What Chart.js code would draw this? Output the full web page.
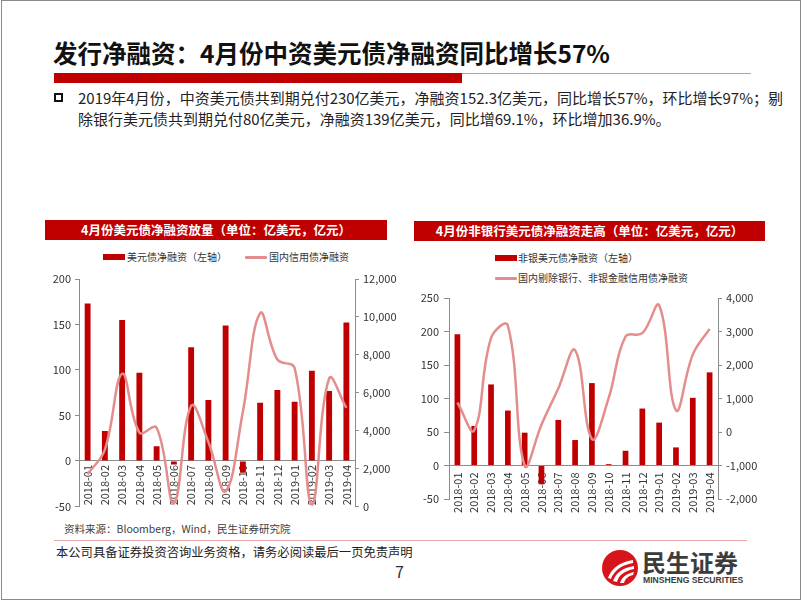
<!DOCTYPE html>
<html>
<head>
<meta charset="utf-8">
<script src="https://cdn.jsdelivr.net/npm/chart.js@4.4.1/dist/chart.umd.min.js"></script>
<style>
  html, body { margin: 0; padding: 0; background: #fff; }
  body { width: 802px; height: 602px; position: relative; overflow: hidden;
         font-family: "Noto Sans CJK SC", "Microsoft YaHei", sans-serif; color: #222; }
  .abs { position: absolute; white-space: nowrap; }
  .frame { left: 1px; top: 0; width: 800px; height: 600px; box-sizing: border-box; border: 1px solid #8a8a8a; }
  .title { left: 53px; top: 38px; font-size: 24.5px; font-weight: 700; line-height: 30px; color: #111; }
  .body { left: 78px; font-size: 15px; line-height: 20px; color: #222; }
  .hdr { height: 20px; background: #C00000; color: #fff; font-weight: 700; font-size: 12.5px;
         line-height: 20px; text-align: center; }
  .leg { font-size: 10px; line-height: 14px; color: #333; }
  .sw-bar { position: absolute; width: 22px; height: 6px; background: #C00000; }
  .sw-line { position: absolute; width: 22px; height: 3px; background: #E38D8D; border-radius: 1px; }
</style>
</head>
<body>
<div class="abs frame"></div>

<div class="abs title">发行净融资：4月份中资美元债净融资同比增长57%</div>
<div class="abs" style="left:54px;top:73px;width:408px;height:10px;background:#C00000"></div>
<div class="abs" style="left:462px;top:73px;width:289px;height:1px;background:#D99090"></div>

<div class="abs" style="left:54px;top:93px;width:5px;height:5px;border:2px solid #111"></div>
<div class="abs body" style="top:88px">2019年4月份，中资美元债共到期兑付230亿美元，净融资152.3亿美元，同比增长57%，环比增长97%；剔</div>
<div class="abs body" style="top:109px">除银行美元债共到期兑付80亿美元，净融资139亿美元，同比增69.1%，环比增加36.9%。</div>

<!-- left chart -->
<div class="abs hdr" style="left:45px;top:220px;width:342px">4月份美元债净融资放量（单位：亿美元，亿元）</div>
<div class="sw-bar" style="left:103px;top:254px"></div>
<div class="abs leg" style="left:127px;top:250px">美元债净融资（左轴）</div>
<div class="sw-line" style="left:245px;top:256px"></div>
<div class="abs leg" style="left:269px;top:250px">国内信用债净融资</div>
<canvas id="chartLeft" class="abs" style="left:40px;top:262px" width="370" height="255"></canvas>

<!-- right chart -->
<div class="abs hdr" style="left:414px;top:221px;width:351px">4月份非银行美元债净融资走高（单位：亿美元，亿元）</div>
<div class="sw-bar" style="left:495px;top:255px"></div>
<div class="abs leg" style="left:518px;top:251px">非银美元债净融资（左轴）</div>
<div class="sw-line" style="left:495px;top:277px"></div>
<div class="abs leg" style="left:518px;top:271px">国内剔除银行、非银金融信用债净融资</div>
<canvas id="chartRight" class="abs" style="left:410px;top:262px" width="370" height="260"></canvas>

<div class="abs" style="left:64px;top:522px;font-size:10.5px;line-height:14px;color:#404040">资料来源：Bloomberg，Wind，民生证券研究院</div>
<div class="abs" style="left:54px;top:540px;width:693px;height:1px;background:#E8A8A8"></div>
<div class="abs" style="left:56px;top:544px;font-size:12.3px;line-height:16px;color:#222">本公司具备证券投资咨询业务资格，请务必阅读最后一页免责声明</div>
<div class="abs" style="left:395px;top:561px;font-size:16px;line-height:20px;color:#333">7</div>

<svg class="abs" style="left:601px;top:549px" width="38" height="38" viewBox="0 0 38 38">
  <circle cx="19" cy="19" r="18" fill="#D7141A"/>
  <path d="M7 29 C 10 20, 18 13, 32 11 L 32 14 C 20 16, 13 22, 10 30 Z" fill="#fff"/>
  <path d="M12 32 C 15 24, 21 19, 33 17 L 33 20 C 23 22, 18 26, 16 33 Z" fill="#fff"/>
  <path d="M19 34 C 21 28, 25 25, 33 23 L 32 26 C 27 27, 24 30, 23 34 Z" fill="#fff"/>
</svg>
<div class="abs" style="left:642px;top:548px;font-size:24px;line-height:28px;font-weight:700;color:#3c3c3c">民生证券</div>
<div class="abs" style="left:643px;top:575px;font-family:'Liberation Sans',Arial,sans-serif;font-size:8.6px;line-height:10px;font-weight:700;color:#3c3c3c">MINSHENG SECURITIES</div>

<script>
const months = ['2018-01', '2018-02', '2018-03', '2018-04', '2018-05', '2018-06', '2018-07', '2018-08',
                '2018-09', '2018-10', '2018-11', '2018-12', '2019-01', '2019-02', '2019-03', '2019-04'];

// 左图：美元债净融资（亿美元）与国内信用债净融资（亿元）
const usdNet = [173, 33, 155, 97, 16, -4, 125, 67, 149, -13, 64, 78, 65, 99, 77, 152.3];
const domesticNet = [1700, 3000, 7000, 3900, 4150, 150, 5300, 3400, 800, 5000, 10200, 7750, 7300, 100, 6750, 5200];

// 右图：非银美元债净融资（亿美元）与国内剔除银行、非银金融信用债净融资（亿元）
const nonBankUsdNet = [196, 59, 121, 82, 49, -28, 68, 38, 123, 2, 22, 85, 64, 27, 101, 139];
const nonBankDomesticNet = [880, 50, 2800, 3180, -1000, 220, 1300, 2440, -210, 1020, 2850, 2950, 3780, 650, 2310, 3080];

const BAR_RED = '#C00000';
const LINE_PINK = '#E38D8D';
const AXIS_GREY = '#8c8c8c';
const TICK_COLOR = '#333';

Chart.defaults.font.family = '"Noto Sans CJK SC", "Microsoft YaHei", sans-serif';
Chart.defaults.font.size = 11;
Chart.defaults.color = TICK_COLOR;

const fmt = v => v.toLocaleString('en-US');

function makeChart(id, bars, line, barLabel, lineLabel, ax) {
    return new Chart(document.getElementById(id), {
        type: 'bar',
        data: {
            labels: months,
            datasets: [
                { type: 'bar', label: barLabel, data: bars, backgroundColor: BAR_RED,
                  yAxisID: 'y', order: 2, categoryPercentage: 0.34, barPercentage: 1 },
                { type: 'line', label: lineLabel, data: line, borderColor: LINE_PINK, borderWidth: 2.5,
                  pointRadius: 0, tension: 0.4, yAxisID: 'y1', order: 1 }
            ]
        },
        options: {
            responsive: false,
            animation: false,
            layout: { padding: { top: ax.padTop, bottom: ax.padBottom } },
            plugins: { legend: { display: false }, tooltip: { enabled: false } },
            scales: {
                x: {
                    position: { y: 0 },
                    grid: { display: false, drawTicks: false },
                    border: { color: AXIS_GREY },
                    ticks: { minRotation: 90, maxRotation: 90, padding: ax.xPad, autoSkip: false }
                },
                y: {
                    position: 'left', min: ax.yMin, max: ax.yMax,
                    ticks: { stepSize: ax.yStep, padding: ax.yTickPad },
                    grid: { drawOnChartArea: false, tickLength: ax.yTickLen, color: AXIS_GREY },
                    border: { color: AXIS_GREY },
                    afterFit: s => { s.width = ax.leftW; }
                },
                y1: {
                    position: 'right', min: ax.y1Min, max: ax.y1Max,
                    ticks: { stepSize: ax.y1Step, padding: 4, callback: fmt },
                    grid: { drawOnChartArea: false, tickLength: 4, color: AXIS_GREY },
                    border: { color: AXIS_GREY },
                    afterFit: s => { s.width = ax.rightW; }
                }
            }
        }
    });
}

makeChart('chartLeft', usdNet, domesticNet, '美元债净融资（左轴）', '国内信用债净融资', {
    padTop: 17, padBottom: 9, xPad: 4,
    yMin: -50, yMax: 200, yStep: 50, yTickPad: 4, yTickLen: 4, leftW: 39,
    y1Min: 0, y1Max: 12000, y1Step: 2000, rightW: 55
});

makeChart('chartRight', nonBankUsdNet, nonBankDomesticNet, '非银美元债净融资（左轴）', '国内剔除银行、非银金融信用债净融资', {
    padTop: 36, padBottom: 23, xPad: 7,
    yMin: -50, yMax: 250, yStep: 50, yTickPad: 5, yTickLen: 5, leftW: 39,
    y1Min: -2000, y1Max: 4000, y1Step: 1000, rightW: 62
});
</script>
</body>
</html>
